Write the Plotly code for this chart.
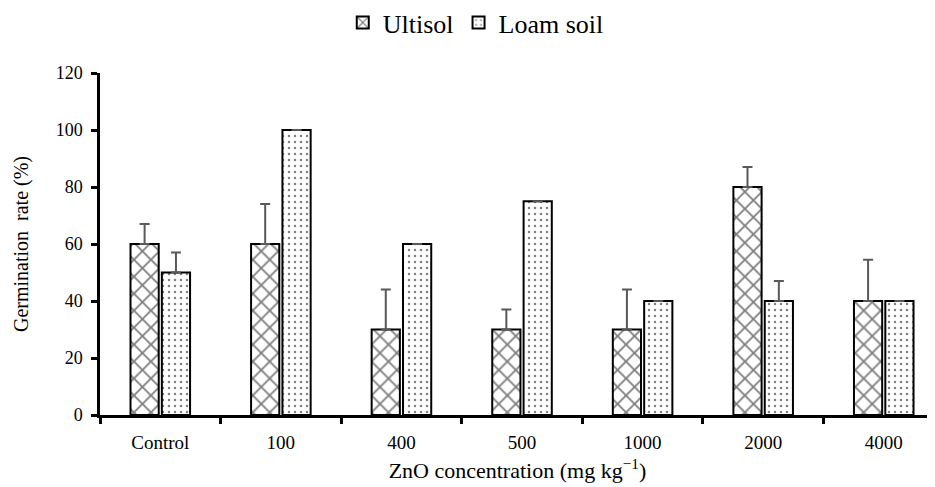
import plotly.graph_objects as go

categories = ["Control", "100", "400", "500", "1000", "2000", "4000"]
ultisol = [60, 60, 30, 30, 30, 80, 40]
ultisol_err = [7, 14, 14, 7, 14, 7, 14.5]
loam = [50, 100, 60, 75, 40, 40, 40]
loam_err = [7, 0, 0, 0, 0, 7, 0]

FONT = "Liberation Serif"

fig = go.Figure()
fig.add_trace(go.Bar(
    name="Ultisol", x=categories, y=ultisol,
    error_y=dict(type="data", symmetric=False, array=ultisol_err,
                 arrayminus=[0] * len(ultisol), color="#595959", thickness=2, width=5),
    marker=dict(color="white", line=dict(color="black", width=2),
                pattern=dict(shape="x", fgcolor="black", bgcolor="white", size=12, solidity=0.28)),
))
fig.add_trace(go.Bar(
    name="Loam soil", x=categories, y=loam,
    error_y=dict(type="data", symmetric=False, array=loam_err,
                 arrayminus=[0] * len(loam), color="#595959", thickness=2, width=5),
    marker=dict(color="white", line=dict(color="black", width=2),
                pattern=dict(shape=".", fgcolor="black", bgcolor="white", size=6, solidity=0.14)),
))

fig.update_layout(
    width=935, height=487,
    barmode="group", bargap=0.48, bargroupgap=0.1,
    plot_bgcolor="white", paper_bgcolor="white",
    margin=dict(l=92, r=8, t=65, b=80),
    font=dict(family=FONT, color="black", size=18),
    showlegend=True,
    legend=dict(orientation="h", x=0.45, xanchor="center", y=0.97, yanchor="middle",
                yref="container", font=dict(size=26, family=FONT, color="black"),
                traceorder="normal", itemwidth=30),
    xaxis=dict(
        type="category", range=[-0.5, 6.425], automargin=False,
        showline=True, linecolor="black", linewidth=2.5,
        ticks="outside", tickson="boundaries", ticklen=6, tickwidth=2.5, tickcolor="black",
        ticklabelstandoff=8,
        tickfont=dict(size=19, family=FONT),
        title=dict(text="ZnO concentration (mg kg<sup>−1</sup>)", font=dict(size=22, family=FONT), standoff=12),
        showgrid=False, zeroline=False,
    ),
    yaxis=dict(
        range=[0, 120], dtick=20, automargin=False,
        showline=True, linecolor="black", linewidth=2.5,
        ticks="outside", ticklen=6, tickwidth=2.5, tickcolor="black",
        ticklabelstandoff=5,
        tickfont=dict(size=18, family=FONT),
        title=dict(text="Germination  rate (%)", font=dict(size=20, family=FONT), standoff=22),
        showgrid=False, zeroline=False,
    ),
)

fig.write_html("out.html")
